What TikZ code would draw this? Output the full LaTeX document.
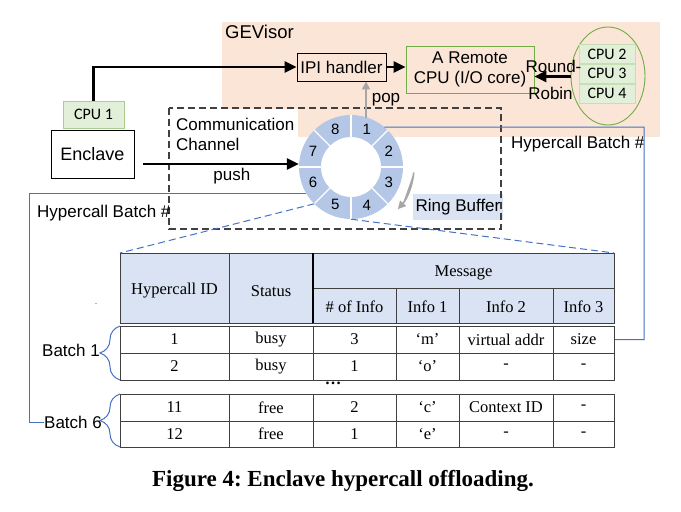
\documentclass[tikz,border=0pt]{standalone}
\usepackage{fontspec}
\setmainfont{Liberation Serif}
\setsansfont{Liberation Sans}
\newfontfamily\cpufont{Carlito}
\usepackage{tikz}
\usetikzlibrary{arrows.meta}
\usetikzlibrary{shapes.geometric}
\usetikzlibrary{decorations.pathreplacing}
\usetikzlibrary{positioning}
\definecolor{peach}{HTML}{FBE5D6}
\definecolor{ringblue}{HTML}{B4C7E7}
\definecolor{headblue}{HTML}{DAE3F3}
\definecolor{cpugreen}{HTML}{E2F0D9}
\definecolor{cpuline}{HTML}{C5E0B4}
\definecolor{boxgreen}{HTML}{70AD47}
\definecolor{linkblue}{HTML}{4472C4}
\definecolor{popgray}{HTML}{A6A6A6}
\newcommand{\lbl}{\sffamily\fontsize{17}{20}\selectfont}
\newcommand{\tbl}{\rmfamily\fontsize{16.5}{19}\selectfont}

\begin{document}
\begin{tikzpicture}[x=1pt,y=-1pt,>={Triangle[length=12pt,width=11pt]},
		box/.style={rectangle,draw=black,line width=0.9pt,inner sep=2pt,font=\lbl},
		cpubox/.style={rectangle,draw=cpuline,fill=cpugreen,line width=0.8pt,inner sep=0pt,font=\cpufont\fontsize{16}{18}\selectfont},
		lab/.style={inner sep=0pt,font=\lbl,align=left},
		num/.style={inner sep=0pt,font=\sffamily\fontsize{15}{17}\selectfont},
		arr/.style={->,line width=2.4pt},
		grayarr/.style={-{Triangle[length=8pt,width=8pt]},line width=1.6pt,draw=popgray,fill=popgray},
		bline/.style={draw=linkblue,line width=1pt},
		bdash/.style={draw=linkblue,line width=1pt,dash pattern=on 7pt off 4pt},
		tline/.style={draw=black!75,line width=0.9pt},
		cell/.style={inner sep=0pt,font=\tbl},
		brace/.style={bline,decorate,decoration={brace,amplitude=20pt}}]
		\useasboundingbox (0,0) rectangle (681,512);

		% GEVisor area
		\fill[peach] (222,22) rectangle (660,137);
		\fill[white] (170,108.5) rectangle (298,137);
		\node[lab,anchor=west,font=\sffamily\fontsize{18.5}{20}\selectfont] (gevisor) at (225,31.5) {GEVisor};

		\node[box,minimum width=89pt,minimum height=28pt] (ipi) at (341.5,67) {IPI handler};
		\node[box,draw=boxgreen,align=center,minimum width=128pt,minimum height=47pt,inner sep=0pt] (remote) at (470,69.5) {A Remote\\CPU (I/O core)};
		\node[ellipse,draw=boxgreen,line width=0.9pt,minimum width=74pt,minimum height=98pt] (pool) at (608,76) {};
		\node[cpubox,minimum width=56pt,minimum height=19pt] (cpu2) at (607,54) {CPU 2};
		\node[cpubox,minimum width=56pt,minimum height=19pt,below=0pt of cpu2] (cpu3) {CPU 3};
		\node[cpubox,minimum width=56pt,minimum height=19pt,below=0pt of cpu3] (cpu4) {CPU 4};

		% enclave side
		\node[box,font=\sffamily\fontsize{18}{20}\selectfont,minimum width=83pt,minimum height=48pt] (enclave) at (92.5,154) {Enclave};
		\node[cpubox,draw=boxgreen!60,minimum width=61pt,minimum height=27pt] (cpu1) at (93.5,114.5) {CPU 1};

		% communication channel
		\node[circle,minimum size=104pt,inner sep=0pt] (ring) at (351,167) {};
		\node[lab,fill=headblue,minimum width=90pt,minimum height=26pt,align=center] (rbuf) at (458,207) {Ring Buffer};
		\draw[black!75,line width=1.1pt,dash pattern=on 7pt off 4pt] (169,108) rectangle (501,229);
		\node[lab,anchor=north west,text depth=0pt] (comm) at (176,118) {Communication\\[0pt]Channel};

		\fill[ringblue,even odd rule] (ring.center) circle[radius=52pt] (ring.center) circle[radius=30pt];
		\foreach \a in {0,45,...,315}
			\draw[white,line width=1.2pt] ([shift={(\a:30pt)}]ring.center) -- ([shift={(\a:52pt)}]ring.center);
		\foreach \n/\a in {1/67.5,2/22.5,3/-22.5,4/-67.5,5/-112.5,6/-157.5,7/157.5,8/112.5}
			\node[num] (seg\n) at ([shift={(\a:41pt)}]ring.center) {\n};
		\draw[grayarr] ([shift={(-5:63pt)}]ring.center) arc[start angle=-5,end angle=-42,radius=63pt];

		\coordinate (pushfrom) at (143,164);
		\coordinate (popfrom) at (366,118);
		\draw[arr] (cpu1.north) |- (ipi.west);
		\draw[arr] (pushfrom) -- ([yshift=3pt]ring.west) node[lab,below,pos=0.57,yshift=-3pt] (push) {push};
		\draw[grayarr] (popfrom) -- (popfrom |- ipi.south) node[lab,right,midway,xshift=5pt,text=black] (pop) {pop};
		\draw[arr] (ipi.east) -- (ipi.east -| remote.west);
		\draw[arr] ([yshift=-0.5pt]pool.west) -- ([yshift=-0.5pt]pool.west -| remote.east)
			node[lab,above,midway,yshift=3pt,xshift=1pt] (round) {Round-}
			node[lab,below,midway,yshift=-9pt,xshift=-2pt] (robin) {Robin};

		% batch links
		\coordinate (hb6) at ([shift={(-150:52pt)}]ring.center);
		\coordinate (hb1) at ([shift={(50:52pt)}]ring.center);
		\coordinate (lcorner) at (29,193);
		\coordinate (rcorner) at (644,127);
		\coordinate (row1) at (614,339.5);
		\node[lab,anchor=west] (hbl) at (37,213) {Hypercall Batch \#};
		\node[lab,anchor=west] (hbr) at (511,144) {Hypercall Batch \#};
		\node[lab,anchor=west] (batch1) at (42,350) {Batch 1};
		\node[lab,anchor=west] (batch6) at (44,422) {Batch 6};
		\draw[bline] (hb6) -- (lcorner) |- (batch6.west);
		\draw[bline] (hb1) -- (rcorner) |- (row1);
		\draw[bdash] ([shift={(-135:52pt)}]ring.center) -- (120,253);
		\draw[bdash] (ring.south) -- (614,253);

		% table
		\fill[headblue] (120,253) rectangle (614,323);
		\draw[tline] (120,253) rectangle (614,323);
		\draw[tline] (313,288) -- (614,288);
		\draw[tline] (229,253) -- (229,323);
		\draw[black,line width=1.4pt] (313,253) -- (313,323);
		\foreach \cx in {396,459,553}
			\draw[tline] (\cx,288) -- (\cx,323);
		\foreach \t/\m/\b in {326/353/380,394/421/447}{
			\draw[tline] (120,\t) rectangle (614,\b);
			\draw[tline] (120,\m) -- (614,\m);
			\foreach \cx in {229,313,396,459,553}
				\draw[tline] (\cx,\t) -- (\cx,\b);
		}
		\node[cell] (hid) at (174.5,291) {Hypercall ID};
		\node[cell] (hst) at (271,291) {Status};
		\node[cell] (hmsg) at (463.5,273) {Message};
		\node[cell] (hnum) at (354.5,307) {\# of Info};
		\node[cell] (hi1) at (427.5,307) {Info 1};
		\node[cell] (hi2) at (506,307) {Info 2};
		\node[cell] (hi3) at (583.5,307) {Info 3};
		\foreach \y/\id/\st/\cnt/\ia/\ib/\ic [count=\r] in
			{339.5/1/busy/3/‘m’/virtual addr/size,
			 366.5/2/busy/1/‘o’/-/-,
			 407.5/11/free/2/‘c’/Context ID/-,
			 434/12/free/1/‘e’/-/-}{
			\node[cell] (r\r c1) at (174.5,\y) {\id};
			\node[cell] (r\r c2) at (271,\y) {\st};
			\node[cell] (r\r c3) at (354.5,\y) {\cnt};
			\node[cell] (r\r c4) at (427.5,\y) {\ia};
			\node[cell] (r\r c5) at (506,\y) {\ib};
			\node[cell] (r\r c6) at (583.5,\y) {\ic};
		}
		\node[cell,font=\bfseries\tbl] (gap) at (333,383) {\dots};
		\node[inner sep=0pt,font=\fontsize{8}{8}\selectfont] (dot) at (96,304) {.};
		\draw[brace] (120,380) -- (120,326);
		\draw[brace] (120,447) -- (120,394);

		\node[font=\rmfamily\bfseries\fontsize{23}{26}\selectfont\frenchspacing] (caption) at (343,481) {Figure 4: Enclave hypercall offloading.};
		\end{tikzpicture}
\end{document}
